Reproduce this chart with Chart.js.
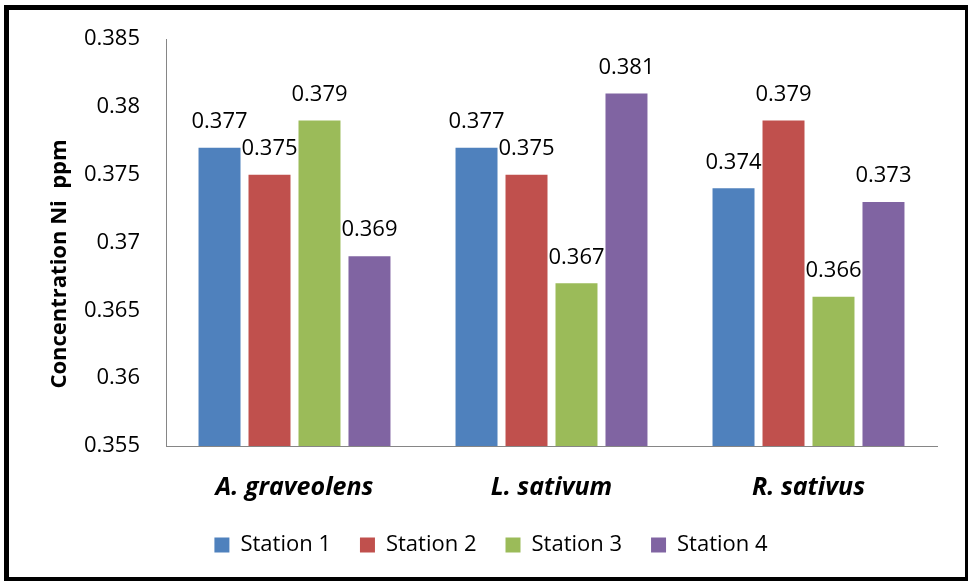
<!DOCTYPE html>
<html>
<head>
<meta charset="utf-8">
<script src="https://cdn.jsdelivr.net/npm/chart.js@4/dist/chart.umd.min.js"></script>
<style>
  html, body { margin: 0; padding: 0; background: #fff; }
  #wrap { position: relative; width: 971px; height: 583px; }
</style>
</head>
<body>
<div id="wrap"><canvas id="c" width="971" height="583"></canvas></div>
<script>
// Nickel concentration (ppm) per plant species and sampling station
const categories = ['A. graveolens', 'L. sativum', 'R. sativus'];
const seriesNames = ['Station 1', 'Station 2', 'Station 3', 'Station 4'];
const station1 = [0.377, 0.377, 0.374];
const station2 = [0.375, 0.375, 0.379];
const station3 = [0.379, 0.367, 0.366];
const station4 = [0.369, 0.381, 0.373];
const yTickLabels = ['0.355', '0.36', '0.365', '0.37', '0.375', '0.38', '0.385'];
const yTitle = 'Concentration Ni  ppm';

const colors = ['#4F81BD', '#C0504D', '#9BBB59', '#8064A2'];
const seriesValues = [station1, station2, station3, station4];
const FONT = "'Open Sans', 'Liberation Sans', sans-serif";

// Frame around the whole figure
const framePlugin = {
  id: 'frame',
  beforeDraw(chart) {
    const ctx = chart.ctx;
    ctx.save();
    ctx.fillStyle = '#fff';
    ctx.fillRect(0, 0, chart.width, chart.height);
    ctx.fillStyle = '#000';
    ctx.fillRect(4, 5, 5, 576);   // left
    ctx.fillRect(4, 5, 964, 5);   // top
    ctx.fillRect(965, 5, 3, 576); // right
    ctx.fillRect(4, 577, 964, 4); // bottom
    ctx.restore();
  }
};

// Rotated y-axis title
const yTitlePlugin = {
  id: 'yTitle',
  afterDraw(chart) {
    const ctx = chart.ctx;
    ctx.save();
    ctx.translate(60, 264);
    ctx.rotate(-Math.PI / 2);
    ctx.font = 'bold 22px ' + FONT;
    ctx.fillStyle = '#000';
    ctx.textAlign = 'center';
    ctx.textBaseline = 'middle';
    ctx.fillText(yTitle, 0, 0);
    ctx.restore();
  }
};

// Value labels above each bar
const valueLabelPlugin = {
  id: 'valueLabels',
  afterDatasetsDraw(chart) {
    const ctx = chart.ctx;
    ctx.save();
    ctx.font = '22px ' + FONT;
    ctx.fillStyle = '#000';
    ctx.textAlign = 'center';
    ctx.textBaseline = 'middle';
    chart.data.datasets.forEach((ds, di) => {
      const meta = chart.getDatasetMeta(di);
      meta.data.forEach((bar, i) => {
        ctx.fillText(String(ds.data[i]), bar.x, bar.y - 26);
      });
    });
    ctx.restore();
  }
};

new Chart(document.getElementById('c'), {
  type: 'bar',
  data: {
    labels: categories,
    datasets: seriesNames.map((name, i) => ({
      label: name,
      data: seriesValues[i],
      backgroundColor: colors[i],
      borderWidth: 0,
      categoryPercentage: 0.778,
      barPercentage: 0.84
    }))
  },
  options: {
    responsive: false,
    animation: false,
    devicePixelRatio: 1,
    layout: { padding: { top: 37, right: 34, bottom: 17, left: 45 } },
    plugins: {
      legend: {
        position: 'bottom',
        labels: {
          boxWidth: 15,
          boxHeight: 15,
          padding: 29,
          color: '#000',
          font: { family: FONT, size: 22 }
        }
      },
      tooltip: { enabled: false }
    },
    scales: {
      x: {
        grid: { display: false, drawTicks: false },
        border: { display: true, color: '#868686', width: 1 },
        ticks: {
          color: '#000',
          padding: 27,
          font: { family: FONT, size: 25, weight: 'bold', style: 'italic' }
        },
        afterFit(scale) { scale.height = 59; }
      },
      y: {
        min: 0.355,
        max: 0.385,
        grid: { display: false, drawTicks: false },
        border: { display: true, color: '#868686', width: 1 },
        ticks: {
          stepSize: 0.005,
          color: '#000',
          padding: 26,
          font: { family: FONT, size: 22 },
          callback: (v, i) => yTickLabels[i]
        },
        afterFit(scale) { scale.width = 121; }
      }
    }
  },
  plugins: [framePlugin, yTitlePlugin, valueLabelPlugin]
});
</script>
</body>
</html>
